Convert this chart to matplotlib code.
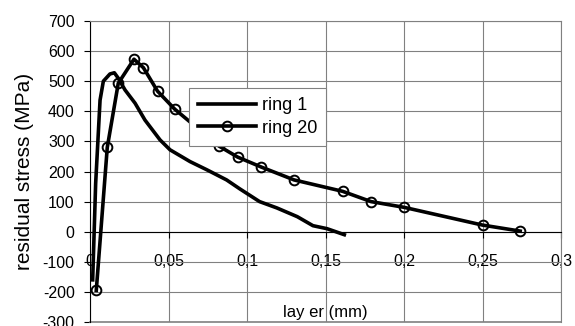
import numpy as np
import matplotlib
matplotlib.use('Agg')
import matplotlib.pyplot as plt

plt.rcParams['font.family'] = ['Liberation Sans', 'DejaVu Sans']
plt.rcParams['axes.unicode_minus'] = False

# ring 1 (smooth line, no markers)
ring1_x = [0.0017, 0.0036, 0.0064, 0.0085, 0.0127, 0.0155, 0.018, 0.0223, 0.0287, 0.035,
           0.0446, 0.051, 0.0637, 0.0743, 0.087, 0.0955, 0.108, 0.119, 0.132, 0.142, 0.151, 0.162]
ring1_y = [-160, 160, 437, 500, 524, 528, 510, 471, 427, 371,
           305, 272, 233, 206, 172, 142, 100, 79, 50, 20, 10, -10]

# ring 20 (line with circle markers)
ring20_x = [0.004, 0.011, 0.018, 0.028, 0.034, 0.043, 0.054, 0.082, 0.094, 0.109,
            0.13, 0.161, 0.179, 0.20, 0.25, 0.274]
ring20_y = [-195, 280, 493, 573, 545, 467, 407, 285, 248, 215,
            172, 134, 100, 81, 22, 2]

xticks = [0, 0.05, 0.1, 0.15, 0.2, 0.25, 0.3]
xtick_labels = ['0', '0,05', '0,1', '0,15', '0,2', '0,25', '0,3']
yticks = list(range(-300, 701, 100))

fig = plt.figure(figsize=(5.75, 3.26), dpi=100)
ax = fig.add_axes([90 / 575, 4 / 326, 471 / 575, 301 / 326])

ax.plot(ring1_x, ring1_y, color='black', lw=2.6, label='ring 1', zorder=3)
ax.plot(ring20_x, ring20_y, color='black', lw=2.6, marker='o', ms=7,
        mfc='none', mec='black', mew=1.4, label='ring 20', zorder=3)

ax.set_xlim(0, 0.3)
ax.set_ylim(-300, 700)
ax.set_xticks(xticks)
ax.set_xticklabels(xtick_labels)
ax.set_yticks(yticks)

ax.grid(True, color='#808080', lw=0.8)
ax.set_axisbelow(True)

ax.spines['bottom'].set_position(('data', 0))
ax.spines['bottom'].set_color('black')
ax.spines['left'].set_color('black')
for s in ['top', 'right']:
    ax.spines[s].set_color('#808080')
    ax.spines[s].set_linewidth(0.8)
ax.axhline(-300, color='#808080', lw=1.2, clip_on=False, zorder=1)

ax.tick_params(axis='x', direction='out', length=4, pad=12, labelsize=11.5)
ax.tick_params(axis='y', direction='out', length=4, pad=7, labelsize=11.5)

ax.set_ylabel('residual stress (MPa)', fontsize=15, va='center')
ax.yaxis.set_label_coords(-0.14, 0.5)
ax.set_xlabel('lay er (mm)', fontsize=12, va='center')
ax.xaxis.set_label_coords(0.5, 0.033)

leg = ax.legend(loc='upper left', bbox_to_anchor=(0.210, 0.777), borderaxespad=0,
                fontsize=13, fancybox=False, framealpha=1, edgecolor='#808080',
                handlelength=3.2, labelspacing=0.3, borderpad=0.5, handletextpad=0.35)
leg.get_frame().set_linewidth(0.8)

fig.savefig('out.png', dpi=100)
